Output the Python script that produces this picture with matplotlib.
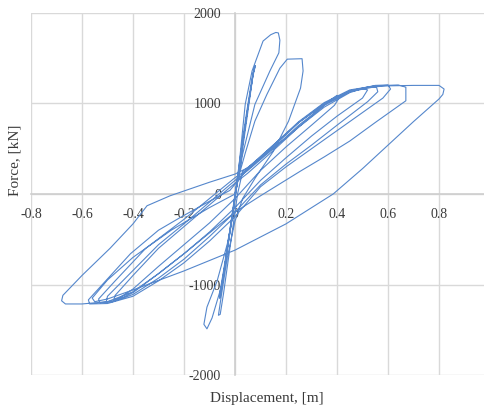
import numpy as np
import matplotlib
matplotlib.use("Agg")
import matplotlib.pyplot as plt

# Hysteresis path, cycle by cycle (displacement [m], force [kN])
early_disp = [0, 0.02, 0.045, 0.07, 0.075, 0.065, 0.04, 0.015, 0, -0.02, -0.045, -0.06, -0.055, -0.035, -0.01, 0.005,
              0.025, 0.05, 0.072, 0.08, 0.07, 0.045, 0.02, 0.0, -0.025, -0.05, -0.06, -0.05, -0.03, -0.005, 0.01]
early_force = [0, 300, 800, 1300, 1390, 1250, 800, 300, 0, -400, -850, -1100, -1050, -700, -250, 50,
               450, 950, 1340, 1420, 1300, 850, 350, -20, -520, -1000, -1150, -1000, -600, -150, 150]

tall1_disp = [0.01, 0.027, 0.04, 0.067, 0.11, 0.14, 0.16, 0.17, 0.176, 0.172, 0.137, 0.078, 0.03, 0.005, -0.015,
              -0.05, -0.09, -0.11, -0.122, -0.11, -0.07, -0.03, -0.01, 0.0, 0.015]
tall1_force = [150, 620, 990, 1360, 1690, 1760, 1785, 1780, 1700, 1560, 1360, 990, 440, 50, -300,
               -990, -1370, -1490, -1440, -1250, -960, -550, -260, 0, 200]

tall2_disp = [0.015, 0.04, 0.078, 0.125, 0.176, 0.205, 0.263, 0.267, 0.257, 0.21, 0.15, 0.08, 0.03, 0, -0.03,
              -0.055, -0.065, -0.058, -0.045, -0.025, -0.005, 0.01, 0.03]
tall2_force = [200, 450, 805, 1100, 1390, 1490, 1495, 1360, 1170, 805, 470, 180, -50, -300, -700,
               -1150, -1340, -1330, -1100, -700, -300, 0, 250]

loop1_disp = [0.03, 0.1, 0.2, 0.3, 0.37, 0.40, 0.41, 0.39, 0.3, 0.2, 0.1, 0.0, -0.1, -0.2, -0.3, -0.4, -0.46,
              -0.475, -0.47, -0.4, -0.3, -0.2, -0.1, 0.0, 0.05]
loop1_force = [250, 400, 620, 860, 1030, 1090, 1070, 980, 760, 520, 260, -50, -320, -560, -800, -1050, -1160,
               -1170, -1120, -900, -600, -360, -120, 120, 230]

loop2_disp = [0.05, 0.15, 0.25, 0.35, 0.45, 0.50, 0.52, 0.5, 0.4, 0.3, 0.2, 0.1, 0.0, -0.1, -0.2, -0.3, -0.4,
              -0.47, -0.505, -0.5, -0.43, -0.3, -0.2, -0.1, 0.0, 0.05]
loop2_force = [230, 480, 740, 960, 1120, 1165, 1150, 1060, 860, 640, 400, 150, -150, -420, -660, -880, -1090,
               -1180, -1190, -1130, -930, -560, -330, -90, 150, 260]

loop3_disp = [0.05, 0.15, 0.25, 0.35, 0.45, 0.52, 0.555, 0.56, 0.52, 0.4, 0.3, 0.2, 0.1, 0, -0.1, -0.2, -0.3,
              -0.4, -0.48, -0.53, -0.535, -0.47, -0.35, -0.2, -0.1, 0.0, 0.05]
loop3_force = [260, 500, 760, 980, 1130, 1180, 1180, 1130, 1020, 760, 540, 330, 100, -200, -470, -720, -930,
               -1110, -1190, -1200, -1160, -960, -600, -280, -50, 180, 270]

loop4_disp = [0.05, 0.15, 0.25, 0.35, 0.45, 0.55, 0.60, 0.61, 0.58, 0.45, 0.3, 0.2, 0.1, 0, -0.1, -0.2, -0.3,
              -0.4, -0.5, -0.57, -0.575, -0.52, -0.41, -0.3, -0.215, -0.1, -0.02, 0.05]
loop4_force = [270, 520, 790, 1000, 1140, 1200, 1205, 1160, 1060, 800, 500, 300, 80, -250, -520, -760, -960,
               -1130, -1210, -1215, -1170, -1000, -660, -400, -260, -80, 40, 280]

loop5_disp = [0.05, 0.15, 0.25, 0.35, 0.45, 0.55, 0.64, 0.67, 0.67, 0.55, 0.45, 0.35, 0.255, 0.1, 0, -0.1, -0.2,
              -0.3, -0.4, -0.5, -0.6, -0.665, -0.68, -0.675, -0.6, -0.49, -0.4, -0.345, -0.255, -0.1, 0.0, 0.05]
loop5_force = [280, 540, 800, 1010, 1150, 1195, 1205, 1180, 1030, 790, 585, 410, 250, -20, -200, -430, -660,
               -880, -1080, -1190, -1215, -1215, -1180, -1120, -900, -600, -330, -130, -20, 130, 220, 290]

loop6_disp = [0.05, 0.15, 0.25, 0.35, 0.45, 0.55, 0.6, 0.7, 0.8, 0.82, 0.815, 0.8, 0.7, 0.6, 0.5, 0.385, 0.2, 0.0,
              -0.2, -0.4, -0.5, -0.55, -0.56, -0.5, -0.4, -0.25, -0.1, 0.0]
loop6_force = [290, 540, 790, 990, 1130, 1185, 1195, 1200, 1200, 1160, 1100, 1050, 800, 540, 280, 0, -330, -620,
               -850, -1060, -1160, -1190, -1150, -950, -700, -400, -150, 0]

x_ticks = [-0.8, -0.6, -0.4, -0.2, 0, 0.2, 0.4, 0.6, 0.8, 1]
y_ticks = [-2000, -1000, 0, 1000, 2000]

disp = np.concatenate([early_disp, tall1_disp, tall2_disp, loop1_disp, loop2_disp,
                       loop3_disp, loop4_disp, loop5_disp, loop6_disp])
force = np.concatenate([early_force, tall1_force, tall2_force, loop1_force, loop2_force,
                        loop3_force, loop4_force, loop5_force, loop6_force])

plt.rcParams['font.family'] = ['Liberation Serif', 'DejaVu Serif']

fig = plt.figure(figsize=(4.85, 4.11), dpi=100)
ax = fig.add_axes([31 / 485, 36 / 411, 459 / 485, 362 / 411])

ax.plot(disp, force, color='#5587cc', linewidth=0.8, zorder=3)

ax.set_xlim(-0.8, 1.0)
ax.set_ylim(-2000, 2000)
ax.set_xticks(x_ticks)
ax.set_yticks(y_ticks)
ax.set_xticklabels([f"{v:g}" for v in x_ticks])
ax.set_yticklabels([f"{v:g}" for v in y_ticks])
ax.grid(True, color='#d9d9d9', linewidth=1.0, zorder=0)
ax.set_axisbelow(True)

for side in ['top', 'right']:
    ax.spines[side].set_visible(False)
ax.spines['left'].set_position(('data', 0))
ax.spines['bottom'].set_position(('data', 0))
ax.spines['left'].set_color('#cfcfcf')
ax.spines['bottom'].set_color('#cfcfcf')
ax.spines['left'].set_linewidth(1.2)
ax.spines['bottom'].set_linewidth(1.2)
ax.tick_params(axis='both', length=0, labelsize=10, labelcolor='#3a3a3a')
ax.tick_params(axis='x', pad=10)
ax.tick_params(axis='y', pad=10)

fig.text(267 / 485, 1 - 398 / 411, "Displacement, [m]", ha='center', va='center',
         fontsize=11, color='#3a3a3a')
fig.text(15 / 485, 1 - 160 / 411, "Force, [kN]", ha='center', va='center',
         rotation=90, fontsize=11, color='#3a3a3a')

fig.savefig('out.png', dpi=100)
